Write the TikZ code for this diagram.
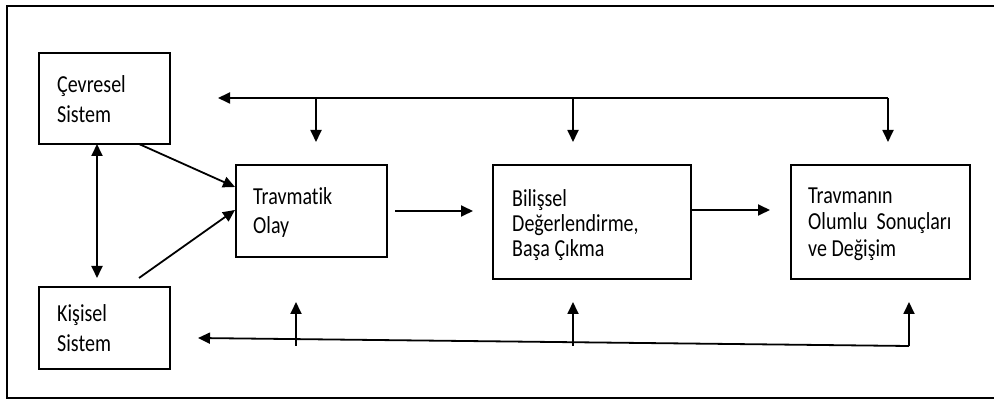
\documentclass[tikz,border=0pt]{standalone}
\usepackage{fontspec}
\setmainfont{Carlito}[Ligatures=NoCommon]
\usetikzlibrary{arrows.meta,calc}
\newcommand{\tallword}[1]{\scalebox{1}[1.22]{#1}}
\begin{document}
\begin{tikzpicture}[x=1pt,y=-1pt,
  frame/.style={line width=2.2pt},
  block/.style={draw,line width=2pt,rectangle,inner sep=0pt},
  lbl/.style={anchor=base west,inner sep=0pt,font=\fontsize{20pt}{24pt}\selectfont},
  tip/.style={-{Triangle[length=12pt,width=11pt]}},
  link/.style={line width=1.8pt,tip},
  biglink/.style={line width=1.8pt,{Triangle[length=12pt,width=11pt]}-{Triangle[length=12pt,width=11pt]}},
  wire/.style={line width=1.8pt}]
  \useasboundingbox (0,0) rectangle (994,403);
  \fill[white] (0,0) rectangle (994,403);

  % outer frame (open on the right)
  \draw[frame] (998,6) -- (7,6) -- (7,398) -- (998,398);

  % blocks
  \node[block,minimum width=131pt,minimum height=91pt] (cev) at (104.5,98.5) {};
  \node[block,minimum width=131pt,minimum height=82pt] (kis) at (104.5,328) {};
  \node[block,minimum width=151pt,minimum height=92pt] (olay) at (311.5,211) {};
  \node[block,minimum width=198pt,minimum height=114pt] (bil) at (592,222) {};
  \node[block,minimum width=179pt,minimum height=114pt] (son) at (880.5,222) {};

  % block texts
  \node[lbl] (cevA) at (57,93) {\tallword{Çevresel}};
  \node[lbl] (cevB) at (57,123) {\tallword{Sistem}};
  \node[lbl] (kisA) at (57,322) {\tallword{Kişisel}};
  \node[lbl] (kisB) at (57,352) {\tallword{Sistem}};
  \node[lbl] (olA) at (253,205) {\tallword{Travmatik}};
  \node[lbl] (olB) at (253,234) {\tallword{Olay}};
  \node[lbl] (bilA) at (512,207) {\tallword{Bilişsel}};
  \node[lbl] (bilB) at (512,232) {\tallword{Değerlendirme,}};
  \node[lbl] (bilC) at (512,257) {\tallword{Başa Çıkma}};
  \node[lbl] (sonA) at (808,204) {\tallword{Travmanın}};
  \node[lbl] (sonB) at (808,230) {\tallword{Olumlu~~Sonuçları}};
  \node[lbl] (sonC) at (808,257) {\tallword{ve Değişim}};

  % main chain
  \coordinate (c1s) at (395,211);
  \coordinate (c1e) at (473,211);
  \draw[link] (c1s) -- (c1e);
  \coordinate (c2e) at (770,210);
  \draw[link] (bil.east |- c2e) -- (c2e);

  % systems feeding the event
  \coordinate (vUp) at (97,144);
  \coordinate (vDn) at (97,278);
  \draw[biglink] (vUp) -- (vDn);
  \draw[link] (139,144) -- (olay.west |- 0,187);
  \coordinate (kisOut) at (139,278);
  \draw[link] (kisOut) -- (olay.west |- 0,210);

  % upper feedback bus
  \coordinate (tR) at (888,98);
  \coordinate (tL) at (218,98);
  \coordinate (t1) at (316,98);
  \coordinate (t2) at (573,98);
  \draw[wire,tip] (tR) -- (tL);
  \draw[link] (t1) -- (316,142);
  \draw[link] (t2) -- (573,142);
  \draw[link] (tR) -- (888,142);

  % lower feedback bus
  \coordinate (bR) at (909,346);
  \coordinate (bL) at (198,338);
  \draw[wire,tip] (bR) -- (bL);
  \draw[link] (bR) -- (909,302);
  \draw[link] (296,346) -- (296,302);
  \draw[link] (573,346) -- (573,302);
\end{tikzpicture}
\end{document}
